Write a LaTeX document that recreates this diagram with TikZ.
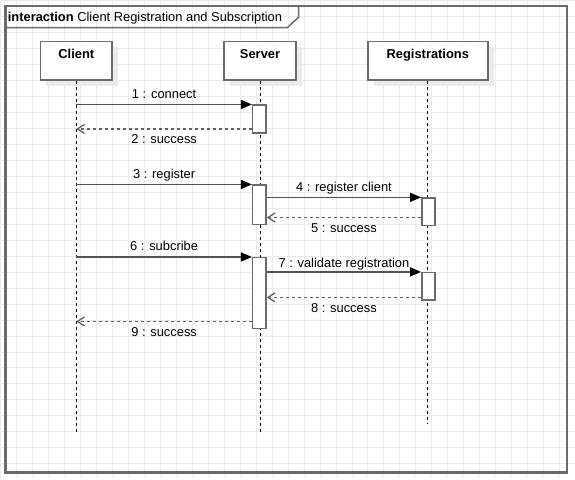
\documentclass[tikz,border=0pt]{standalone}
\usepackage{fontspec}
\setmainfont{Liberation Sans}
\usetikzlibrary{arrows.meta,positioning,shadows}

\tikzset{
	head/.style={draw=black!58,line width=1.6pt,fill=white,minimum width=72pt,inner sep=3pt,
		text height=13.9pt,text depth=19.1pt,font=\fontsize{12.9}{15}\selectfont\bfseries,
		drop shadow={shadow xshift=6pt,shadow yshift=-6pt,fill=black!8,opacity=1}},
	act/.style={draw=black!58,line width=1.5pt,fill=white,minimum width=13.4pt,inner sep=0pt},
	life/.style={black,line width=1pt,dash pattern=on 3pt off 3pt},
	call/.style={draw=black!68,line width=1.5pt,-{Triangle[length=11pt,width=9pt,color=black]}},
	reply/.style={draw=black!62,line width=1.3pt,dash pattern=on 3pt off 3pt,-{Straight Barb[length=7pt,width=9pt]}},
	msg/.style={font=\fontsize{12.9}{15}\selectfont,text height=9.5pt,text depth=2.5pt,inner sep=1pt},
}

\begin{document}
\begin{tikzpicture}[x=1pt,y=-1pt]
		\fill[white] (0,0) rectangle (575,479);
		\draw[black!8,line width=0.8pt,step=16pt] (0,0) grid (575,479);
		\useasboundingbox (0,0) rectangle (575,479);
		%% frame
		\draw[black!58,line width=2.3pt] (5,5.5) rectangle (567.7,472.7);
		\draw[black!58,line width=1.5pt] (5,27.3) -- (287.3,27.3) -- (298.7,16.7) -- (298.7,5.5);
		\node[anchor=base west,inner sep=2pt,font=\fontsize{12.9}{15}\selectfont] (title) at (5.3,20.7)
			{\textbf{interaction} Client Registration and Subscription};
		%% lifelines
		\node[head] (client) at (76,60.5) {Client};
		\node[head] (server) at (260,60.5) {Server};
		\node[head,minimum width=120pt] (reg) at (428,60.5) {Registrations};
		\coordinate (clientend) at (76,432);
		\coordinate (serverend) at (260,432);
		\coordinate (regend) at (428,424);
		\draw[life] (client) -- (clientend);
		\draw[life] (server) -- (serverend);
		\draw[life] (reg) -- (regend);
		%% activations
		\node[act,minimum height=27.7pt] (a1) at (259.3,118.8) {};
		\node[act,minimum height=39.3pt] (a2) at (259.3,204.7) {};
		\node[act,minimum height=27.7pt] (a3) at (428.7,211.8) {};
		\node[act,minimum height=70.6pt] (a4) at (259.3,293) {};
		\node[act,minimum height=27.3pt] (a5) at (428.7,286.3) {};
		%% messages
		\draw[call] (client |- a1.north) -- node[msg,above=1.9pt] {1 : connect} (a1.north west);
		\draw[reply] ([yshift=4.7pt]a1.south west) coordinate (r2) -- node[msg,below=3.8pt] {2 : success} (client |- r2);
		\draw[call] (client |- a2.north) -- node[msg,above=1.9pt] {3 : register} (a2.north west);
		\draw[call] (a2.east |- a3.north) -- node[msg,above=1.4pt] {4 : register client} (a3.north west);
		\draw[reply] ([yshift=9pt]a3.south west) coordinate (r5) -- node[msg,below=3.8pt] {5 : success} (a2.east |- r5);
		\draw[call] (client |- a4.north) -- node[msg,above=1.9pt] {6 : subcribe} (a4.north west);
		\draw[call] (a4.east |- a5.north) -- node[msg,above=0.4pt] {7 : validate registration} (a5.north west);
		\draw[reply] ([yshift=3.3pt]a5.south west) coordinate (r8) -- node[msg,below=3.8pt] {8 : success} (a4.east |- r8);
		\draw[reply] ([yshift=7.6pt]a4.south west) coordinate (r9) -- node[msg,below=3.8pt] {9 : success} (client |- r9);
	\end{tikzpicture}
\end{document}
